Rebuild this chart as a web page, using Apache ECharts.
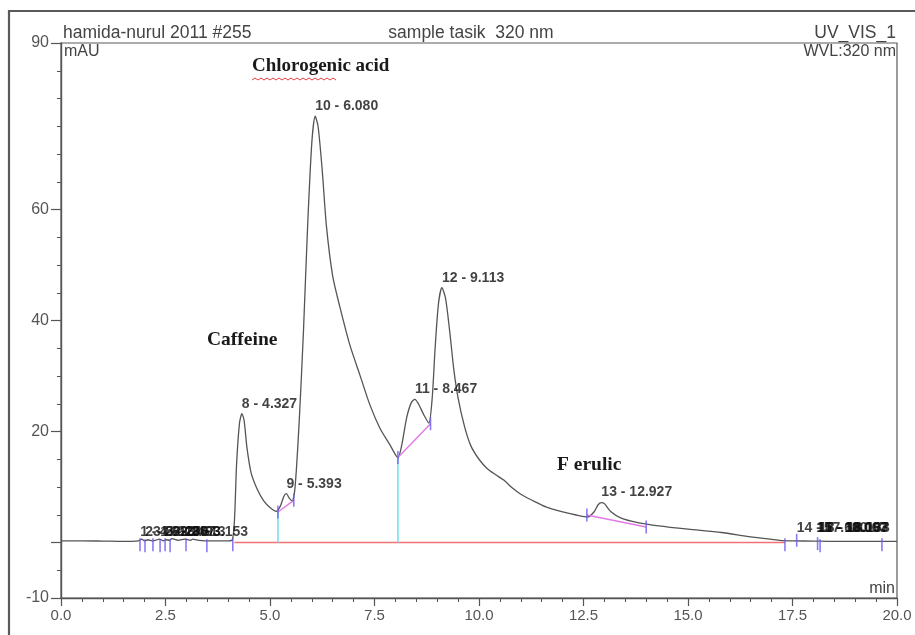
<!DOCTYPE html>
<html>
<head>
<meta charset="utf-8">
<script src="https://cdn.jsdelivr.net/npm/echarts@6/dist/echarts.min.js"></script>
<style>
  html, body { margin: 0; padding: 0; background: #fff; }
  #chart { width: 915px; height: 635px; }
</style>
</head>
<body>
<div id="chart"></div>
<script>
// ---- chromatogram trace (min, mAU) ----
const times = [0.0, 0.5, 1.0, 1.5, 1.85, 1.93, 2.0, 2.08, 2.2, 2.36, 2.45, 2.51, 2.6, 2.65, 2.8, 2.96, 3.1, 3.15, 3.3, 3.6, 4.0, 4.1,
  4.15, 4.2, 4.27, 4.327, 4.38, 4.45, 4.55, 4.7, 4.85, 5.0, 5.15, 5.25, 5.33, 5.393, 5.46, 5.53,
  5.6, 5.7, 5.8, 5.9, 6.0, 6.08, 6.15, 6.25, 6.35, 6.5, 6.67, 6.91, 7.15, 7.39, 7.63, 7.87, 8.06,
  8.15, 8.27, 8.38, 8.467, 8.55, 8.68, 8.8, 8.88, 8.95, 9.03, 9.113, 9.2, 9.3, 9.4, 9.5, 9.65, 9.8,
  10.0, 10.2, 10.4, 10.6, 10.8, 11.0, 11.3, 11.6, 12.0, 12.3, 12.6, 12.75, 12.85, 12.927, 13.0, 13.15,
  13.4, 13.8, 14.3, 15.0, 15.8, 16.5, 17.2, 17.5, 18.0, 18.5, 19.0, 19.5, 20.0];
const signal = [0.3, 0.3, 0.25, 0.2, 0.3, 0.6, 0.3, 0.5, 0.3, 0.6, 0.3, 0.5, 0.4, 0.7, 0.4, 0.6, 0.4, 0.6, 0.4, 0.3, 0.3, 0.5,
  4, 14, 21.5, 23.2, 22, 17, 12.5, 9.5, 7.5, 6.3, 5.6, 6.6, 8.3, 8.8, 8.0, 7.5,
  10, 22, 38, 57, 72, 76.8, 75, 67, 57, 48, 42.5, 35.6, 30.2, 24.8, 20.6, 17.6, 15.3,
  17.5, 22.5, 25.2, 25.8, 25, 23, 21.5, 26, 35, 43, 45.9, 44, 38, 31, 26, 21, 17.5,
  15, 13.3, 12.2, 11.2, 9.8, 8.7, 7.5, 6.4, 5.5, 5.0, 4.6, 5.5, 6.8, 7.2, 7.0, 5.6,
  4.4, 3.6, 3.0, 2.4, 1.8, 1.0, 0.4, 0.3, 0.25, 0.2, 0.2, 0.2, 0.2];

// ---- peak labels ----
const peakNames = ['1', '2', '3', '4', '5', '6', '7', '8', '9', '10', '11', '12', '13', '14', '15', '16', '17', '18'];
const peakTimes = [1.893, 2.013, 2.200, 2.367, 2.493, 2.613, 3.153, 4.327, 5.393, 6.080, 8.467, 9.113, 12.927, 17.600, 18.067, 18.093, 18.107, 18.133];
const peakApex  = [0, 0, 0, 0, 0, 0, 0, 23.2, 8.8, 76.8, 25.8, 45.9, 7.2, 0.8, 0.8, 0.8, 0.8, 0.8];

// ---- integration marks ----
const tickTimes  = [1.89, 2.01, 2.2, 2.37, 2.49, 2.61, 2.99, 3.49, 4.11, 5.19, 5.57, 8.06, 8.84, 12.58, 14.0, 17.32, 17.6, 18.1, 18.16, 19.64];
const tickValues = [-0.4, -0.6, -0.4, -0.6, -0.4, -0.6, -0.4, -0.6, -0.4, 5.5, 7.6, 15.3, 21.4, 4.95, 2.8, -0.4, 0.4, -0.2, -0.6, -0.4];
const baseTimes  = [4.15, 17.32];
const baseValues = [0, 0];
const perpStart  = [[5.19, 5.5], [8.06, 15.3], [12.58, 4.95]];
const perpEnd    = [[5.57, 7.6], [8.84, 21.4], [14.0, 2.8]];
const dropTimes  = [5.19, 8.06];
const dropTops   = [5.5, 15.3];

// ---- axis labels ----
const yLabelValues = [90, 60, 40, 20, -10];
const yLongTicks = [90, 60, 40, 20, 0, -10];

const chart = echarts.init(document.getElementById('chart'));
const sans = "'Liberation Sans', Arial, sans-serif";

const series = [];
series.push({
  type: 'line', data: times.map((t, i) => [t, signal[i]]), symbol: 'none', smooth: 0.25,
  lineStyle: { color: '#555', width: 1.3 }, z: 3, silent: true
});
series.push({
  type: 'line', data: baseTimes.map((t, i) => [t, baseValues[i]]), symbol: 'none',
  lineStyle: { color: '#f07272', width: 1.6 }, z: 2, silent: true
});
perpStart.forEach((s, i) => {
  series.push({ type: 'line', data: [s, perpEnd[i]], symbol: 'none',
    lineStyle: { color: '#e07ae6', width: 1.4 }, z: 4, silent: true });
});
dropTimes.forEach((t, i) => {
  series.push({ type: 'line', data: [[t, 0], [t, dropTops[i]]], symbol: 'none',
    lineStyle: { color: '#74e2f0', width: 1.6 }, z: 2, silent: true });
});
series.push({
  type: 'scatter', data: tickTimes.map((t, i) => [t, tickValues[i]]), symbol: 'rect', symbolSize: [1.6, 13],
  itemStyle: { color: '#6b5cf0' }, z: 5, silent: true
});
series.push({
  type: 'scatter', data: peakTimes.map((t, i) => ({ value: [t, peakApex[i]], name: peakNames[i] + ' - ' + t.toFixed(3) })),
  symbolSize: 0, z: 6, silent: true,
  label: { show: true, position: 'top', align: 'left', distance: 3, offset: [0, 0],
    formatter: p => p.name, color: '#111', fontFamily: sans, fontWeight: 'bold', fontSize: 14 }
});

chart.setOption({
  animation: false,
  backgroundColor: '#fff',
  grid: { left: 61, right: 18, top: 43, bottom: 37, show: true, borderColor: '#5a5a5a', borderWidth: 1.2, backgroundColor: 'transparent' },
  xAxis: {
    type: 'value', min: 0, max: 20, interval: 2.5,
    axisLine: { onZero: false, lineStyle: { color: '#555', width: 1.4 } },
    axisTick: { length: 8, lineStyle: { color: '#555', width: 1.2 } },
    minorTick: { show: true, splitNumber: 5, length: 4, lineStyle: { color: '#555', width: 1 } },
    splitLine: { show: false },
    axisLabel: { formatter: v => v.toFixed(1), color: '#555', fontFamily: sans, fontSize: 15, margin: 10 }
  },
  yAxis: [{
    type: 'value', min: -10, max: 90, interval: 5,
    axisLine: { show: true, onZero: false, lineStyle: { color: '#555', width: 1.4 } },
    axisTick: { length: 4, lineStyle: { color: '#555', width: 1 } },
    splitLine: { show: false },
    axisLabel: { customValues: yLabelValues, color: '#555', fontFamily: sans, fontSize: 16, margin: 12 }
  }, {
    type: 'value', min: -10, max: 90, position: 'left',
    axisLine: { show: false, onZero: false },
    axisTick: { show: true, customValues: yLongTicks, length: 10, lineStyle: { color: '#555', width: 1.2 } },
    axisLabel: { show: false }, splitLine: { show: false }
  }],
  series: series,
  graphic: [
    { type: 'rect', shape: { x: 9, y: 11, width: 920, height: 640 }, style: { fill: 'none', stroke: '#5a5a5a', lineWidth: 2.2 }, silent: true },
    { type: 'text', x: 63, y: 33, style: { text: 'hamida-nurul 2011 #255', fill: '#444', font: "17.5px 'Liberation Sans', Arial", align: 'left', verticalAlign: 'middle' } },
    { type: 'text', x: 471, y: 33, style: { text: 'sample tasik  320 nm', fill: '#444', font: "17.5px 'Liberation Sans', Arial", align: 'center', verticalAlign: 'middle' } },
    { type: 'text', x: 896, y: 33, style: { text: 'UV_VIS_1', fill: '#444', font: "17.5px 'Liberation Sans', Arial", align: 'right', verticalAlign: 'middle' } },
    { type: 'text', x: 64, y: 52, style: { text: 'mAU', fill: '#444', font: "16px 'Liberation Sans', Arial", align: 'left', verticalAlign: 'middle' } },
    { type: 'text', x: 896, y: 52, style: { text: 'WVL:320 nm', fill: '#444', font: "16px 'Liberation Sans', Arial", align: 'right', verticalAlign: 'middle' } },
    { type: 'text', x: 895, y: 589, style: { text: 'min', fill: '#444', font: "16px 'Liberation Sans', Arial", align: 'right', verticalAlign: 'middle' } },
    { type: 'text', x: 252, y: 66, style: { text: 'Chlorogenic acid', fill: '#1a1a1a', font: "bold 19px 'Liberation Serif', 'Times New Roman', serif", align: 'left', verticalAlign: 'middle' } },
    { type: 'polyline', shape: { points: [[252,80],[255,78],[258,80],[261,78],[264,80],[267,78],[270,80],[273,78],[276,80],[279,78],[282,80],[285,78],[288,80],[291,78],[294,80],[297,78],[300,80],[303,78],[306,80],[309,78],[312,80],[315,78],[318,80],[321,78],[324,80],[327,78],[330,80],[333,78],[336,80]] }, style: { stroke: '#e04040', lineWidth: 1, fill: null }, silent: true },
    { type: 'text', x: 207, y: 340, style: { text: 'Caffeine', fill: '#1a1a1a', font: "bold 19.5px 'Liberation Serif', 'Times New Roman', serif", align: 'left', verticalAlign: 'middle' } },
    { type: 'text', x: 557, y: 465, style: { text: 'F erulic', fill: '#1a1a1a', font: "bold 19.5px 'Liberation Serif', 'Times New Roman', serif", align: 'left', verticalAlign: 'middle' } }
  ]
});
</script>
</body>
</html>
